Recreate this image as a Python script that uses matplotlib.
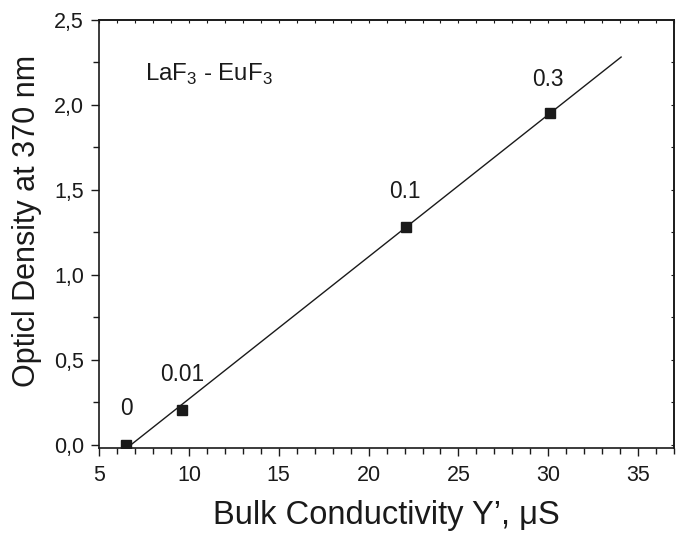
import numpy as np
import matplotlib.pyplot as plt
from matplotlib.ticker import MultipleLocator, FuncFormatter, NullFormatter

plt.rcParams['font.family'] = ['Liberation Sans', 'DejaVu Sans']
plt.rcParams['mathtext.fontset'] = 'custom'
plt.rcParams['mathtext.rm'] = 'Liberation Sans'

# data
conductivity = [6.5, 9.6, 22.07, 30.1]
density = [0.0, 0.206, 1.282, 1.953]
conc_labels = ['0', '0.01', '0.1', '0.3']
label_pos = [(6.5, 0.21), (9.6, 0.41), (22.0, 1.49), (30.0, 2.15)]
fit_range = [6.8, 34.05]

ink = '#1a1a1a'

fig = plt.figure(figsize=(6.83, 5.33), dpi=100)
ax = fig.add_axes([0.145, 0.1595, 0.842, 0.803])

m, b = np.polyfit(conductivity, density, 1)
xf = np.array(fit_range)
ax.plot(xf, m * xf + b, color=ink, lw=1.0)
ax.plot(conductivity, density, 's', color=ink, ms=6.5)

for t, (lx, ly) in zip(conc_labels, label_pos):
    ax.text(lx, ly, t, ha='center', va='center', fontsize=16.3, color=ink)

ax.text(7.55, 2.18, 'LaF$_3$ - EuF$_3$', fontsize=17.3, ha='left', va='center', color=ink)

ax.set_xlim(5, 37)
ax.set_ylim(-0.02, 2.5)
ax.xaxis.set_major_locator(MultipleLocator(5))
ax.xaxis.set_minor_locator(MultipleLocator(1))
ax.yaxis.set_major_locator(MultipleLocator(0.5))
ax.yaxis.set_minor_locator(MultipleLocator(0.25))
ax.yaxis.set_major_formatter(FuncFormatter(lambda v, p: ('%.1f' % v).replace('.', ',')))

ax.tick_params(which='both', direction='out', labelsize=15.5, color=ink, labelcolor=ink)
ax.tick_params(which='major', length=6, width=1)
ax.tick_params(which='minor', length=4, width=1)
ax.tick_params(axis='x', which='major', pad=6)
ax.tick_params(axis='y', which='major', pad=5)
for s in ax.spines.values():
    s.set_linewidth(1.2)
    s.set_color(ink)

# small inward ticks on the top and right frame
top = ax.secondary_xaxis('top')
top.xaxis.set_major_locator(MultipleLocator(1))
top.xaxis.set_major_formatter(NullFormatter())
top.tick_params(direction='in', length=2, color=ink)
right = ax.secondary_yaxis('right')
right.yaxis.set_major_locator(MultipleLocator(0.25))
right.yaxis.set_major_formatter(NullFormatter())
right.tick_params(direction='in', length=2, color=ink)
for sa in (top, right):
    for s in sa.spines.values():
        s.set_linewidth(1.2)
        s.set_color(ink)

ax.set_xlabel('Bulk Conductivity Y\u2019, \u03bcS', fontsize=23.5, color=ink)
ax.xaxis.set_label_coords(0.5, -0.122)
ax.set_ylabel('Opticl Density at 370 nm', fontsize=22, color=ink)
ax.yaxis.set_label_coords(-0.1, 0.53)

fig.savefig('out.png', dpi=100)
